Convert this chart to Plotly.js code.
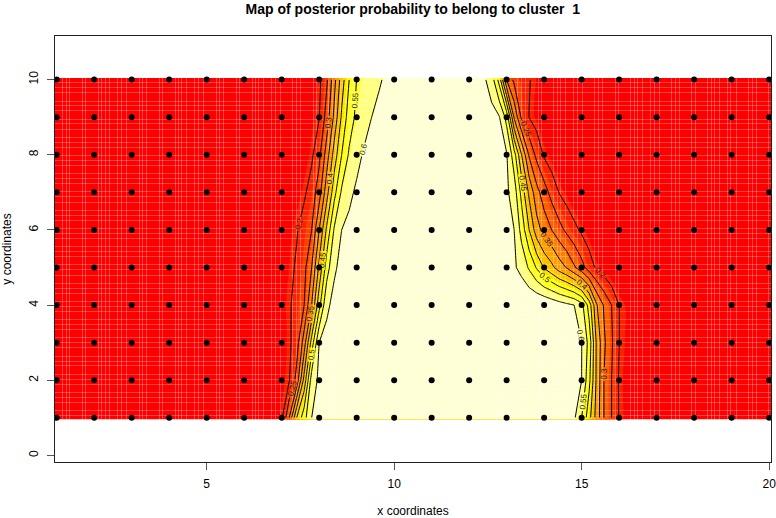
<!DOCTYPE html>
<html>
<head>
<meta charset="utf-8">
<script src="https://cdn.plot.ly/plotly-3.0.1.min.js"></script>
<style>html,body{margin:0;padding:0;background:#fff;}#chart{width:776px;height:518px;}.js-line{shape-rendering:crispEdges;}</style>
</head>
<body>
<div id="chart"></div>
<script>
var gridX = [1,6.8,7,7.2,7.4,7.6,7.8,8,8.2,8.4,8.6,8.8,9,9.2,9.4,9.6,9.8,11,12.4,12.6,12.8,13,13.2,13.4,13.6,13.8,14,14.2,14.4,14.6,14.8,15,15.2,15.4,15.6,15.8,16,16.2,20];
var gridY = [1,2,3,4,5,6,7,8,9,10];
var imageX = [0.9,6.8,7,7.2,7.4,7.6,7.8,8,8.2,8.4,8.6,8.8,9,9.2,9.4,9.6,9.8,11,12.4,12.6,12.8,13,13.2,13.4,13.6,13.8,14,14.2,14.4,14.6,14.8,15,15.2,15.4,15.6,15.8,16,16.2,20.1];
var imageY = [0.955,2,3,4,5,6,7,8,9,10.045];
var posterior = [
[.14,.16,.191,.3,.45,.532,.6,.612,.624,.636,.648,.65,.65,.65,.65,.65,.65,.66,.65,.65,.65,.65,.65,.65,.65,.65,.65,.644,.632,.62,.608,.55,.468,.379,.298,.25,.197,.177,.14],
[.14,.156,.176,.196,.267,.417,.575,.609,.621,.633,.645,.65,.65,.65,.65,.65,.65,.66,.65,.65,.65,.65,.65,.65,.65,.65,.65,.648,.636,.624,.612,.6,.514,.389,.298,.25,.195,.175,.14],
[.14,.151,.171,.191,.227,.325,.471,.6,.612,.624,.636,.648,.65,.65,.65,.65,.65,.66,.65,.65,.65,.65,.65,.65,.65,.65,.65,.649,.637,.625,.613,.601,.533,.391,.308,.257,.2,.18,.14],
[.14,.153,.173,.193,.22,.25,.35,.483,.592,.611,.623,.635,.647,.65,.65,.65,.65,.66,.65,.65,.65,.65,.65,.65,.65,.65,.647,.635,.623,.611,.6,.567,.479,.355,.293,.25,.2,.18,.14],
[.14,.145,.165,.185,.207,.235,.3,.411,.525,.594,.611,.623,.635,.647,.65,.65,.65,.66,.655,.643,.631,.619,.607,.583,.543,.495,.445,.414,.375,.347,.307,.268,.225,.191,.171,.151,.14,.14,.14],
[.14,.14,.156,.176,.196,.222,.25,.35,.459,.555,.6,.612,.624,.636,.648,.65,.65,.66,.648,.636,.624,.612,.6,.532,.45,.372,.33,.3,.268,.239,.214,.191,.171,.151,.14,.14,.14,.14,.14],
[.14,.14,.14,.152,.172,.192,.222,.278,.378,.482,.558,.589,.608,.62,.632,.644,.65,.66,.644,.632,.62,.608,.577,.483,.389,.318,.273,.232,.198,.178,.158,.14,.14,.14,.14,.14,.14,.14,.14],
[.14,.14,.14,.14,.151,.171,.191,.237,.323,.421,.5,.557,.585,.606,.618,.63,.642,.66,.64,.628,.616,.604,.522,.4,.294,.236,.193,.173,.153,.14,.14,.14,.14,.14,.14,.14,.14,.14,.14],
[.14,.14,.14,.14,.14,.158,.178,.198,.271,.361,.458,.525,.561,.58,.6,.612,.624,.66,.628,.616,.604,.533,.344,.24,.199,.179,.159,.14,.14,.14,.14,.14,.14,.14,.14,.14,.14,.14,.14],
[.14,.14,.14,.14,.14,.14,.169,.189,.241,.332,.425,.5,.551,.566,.58,.595,.608,.66,.607,.575,.483,.3,.238,.221,.203,.184,.164,.144,.14,.14,.14,.14,.14,.14,.14,.14,.14,.14,.14]
];
var heatColors = ['#FF0000','#FF2000','#FF4000','#FF6000','#FF8000','#FF9F00','#FFBF00','#FFDF00','#FFFF00','#FFFF2A','#FFFF80','#FFFFD5'];
var seamX = [1.15,1.25,1.35,1.69,1.78,2.11,2.2,2.29,2.42,2.63,2.73,2.87,3.2,3.3,3.4,3.74,3.83,4.16,4.25,4.34,4.47,4.68,4.78,4.92,5.25,5.35,5.45,5.79,5.88,6.21,6.3,6.39,6.52,6.73,6.83,6.97,7.3,7.4,7.5,7.84,7.93,8.26,8.35,8.44,8.57,8.78,8.88,12.73,12.83,12.97,13.3,13.4,13.5,13.84,13.93,14.26,14.35,14.44,14.57,14.78,14.88,15.02,15.35,15.45,15.55,15.89,15.98,16.31,16.4,16.49,16.62,16.83,16.93,17.07,17.4,17.5,17.6,17.94,18.03,18.36,18.45,18.54,18.67,18.88,18.98,19.12,19.45,19.55,19.65,19.99];
var seamY = [9.92,9.79,9.65,9.43,9.3,9.17,8.95,8.82,8.68,8.46,8.33,8.2,7.98,7.85,7.71,7.49,7.36,7.23,7.01,6.88,6.74,6.52,6.39,6.26,6.04,5.91,5.77,5.55,5.42,5.29,5.07,4.94,4.8,4.58,4.45,4.32,4.1,3.97,3.83,3.61,3.48,3.35,3.13,3,2.86,2.64,2.51,2.38,2.16,2.03,1.89,1.67,1.54,1.41,1.19,1.06];
var pointX = [1,2,3,4,5,6,7,8,9,10,11,12,13,14,15,16,17,18,19,20];
var pointY = [1,2,3,4,5,6,7,8,9,10];

var colorscale = heatColors.map(function(c,i){return [i/(heatColors.length-1),c];});
var sx=[],sy=[];
seamX.forEach(function(v){sx.push(v,v,null);sy.push(imageY[0],imageY[imageY.length-1],null);});
seamY.forEach(function(v){sx.push(imageX[0],imageX[imageX.length-1],null);sy.push(v,v,null);});
var dx=[],dy=[];
pointY.forEach(function(b){pointX.forEach(function(a){dx.push(a);dy.push(b);});});

var traces=[
 {type:'contour',x:imageX,y:imageY,z:posterior,colorscale:colorscale,showscale:false,
  autocontour:false,contours:{start:0.185,end:0.605,size:0.0417,coloring:'fill',showlines:false},line:{width:0},hoverinfo:'skip'},
 {type:'contour',x:gridX,y:gridY,z:posterior,showscale:false,autocontour:false,
  contours:{start:0.2,end:0.6,size:0.05,coloring:'none',showlabels:true,labelfont:{size:8,color:'#222',family:'Liberation Sans'},labelformat:'.2~f'},
  line:{color:'#000',width:1,smoothing:0},hoverinfo:'skip'},
 {type:'scatter',mode:'lines',x:sx,y:sy,line:{color:'rgba(255,255,255,0.25)',width:1},hoverinfo:'skip',connectgaps:false},
 {type:'scatter',mode:'markers',x:dx,y:dy,marker:{color:'#000',size:6},hoverinfo:'skip'}
];
var axisFont={family:'Liberation Sans',size:12,color:'#000'};
var layout={
 width:776,height:518,showlegend:false,paper_bgcolor:'#fff',plot_bgcolor:'#fff',
 margin:{l:55,r:5,t:36,b:56},
 title:{text:'Map of posterior probability to belong to cluster  1',font:{family:'Liberation Sans',size:14,color:'#000',weight:'bold'},x:0.532,xanchor:'center',xref:'container',y:0.983,yanchor:'middle',yref:'container'},
 xaxis:{range:[0.955,20.05],tickmode:'array',tickvals:[5,10,15,20],ticks:'outside',ticklen:7,tickcolor:'#555',ticklabelstandoff:4,ticklabeloverflow:'allow',showgrid:false,zeroline:false,showline:true,mirror:true,linecolor:'#222',linewidth:1,tickfont:axisFont,title:{text:'x coordinates',font:axisFont,standoff:17}},
 yaxis:{range:[-0.176,11.16],tickmode:'array',tickvals:[0,2,4,6,8,10],ticks:'outside',ticklen:7,tickcolor:'#555',ticklabelstandoff:4,tickangle:-90,showgrid:false,zeroline:false,showline:true,mirror:true,linecolor:'#222',linewidth:1,tickfont:axisFont,title:{text:'y coordinates',font:axisFont,standoff:15}}
};
Plotly.newPlot('chart',traces,layout,{displayModeBar:false,staticPlot:true}).then(function(){
  // keep the image seams under the contour lines, as in the reference
  var contourLayer=document.querySelector('.contourlayer');
  var seamTrace=document.querySelector('.scatterlayer .trace');
  if(contourLayer&&seamTrace&&contourLayer.children.length>1){contourLayer.insertBefore(seamTrace,contourLayer.children[1]);}
});
</script>
</body>
</html>
